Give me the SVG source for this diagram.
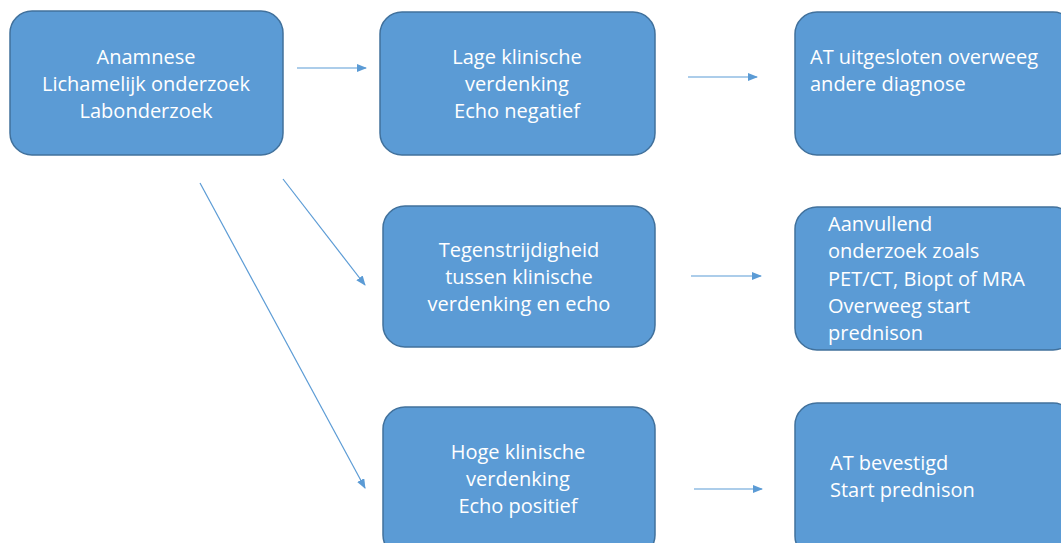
<svg xmlns="http://www.w3.org/2000/svg" width="1061" height="543" viewBox="0 0 1061 543">
<style>
.box{fill:#5B9BD5;stroke:#41719C;stroke-width:1.5}
.t{font-family:"Open Sans","Liberation Sans",sans-serif;font-size:20px;fill:#ffffff}
.c{text-anchor:middle}
.ln{stroke:#5B9BD5;stroke-width:1.2;fill:none;marker-end:url(#ah)}
</style>
<defs>
<marker id="ah" markerWidth="10" markerHeight="8" refX="9" refY="4" orient="auto" markerUnits="userSpaceOnUse">
<path d="M0,0 L10,4 L0,8 Z" fill="#5B9BD5"/>
</marker>
</defs>
<rect width="1061" height="543" fill="#ffffff"/>
<g id="connectors">
<line class="ln" x1="297" y1="68" x2="366" y2="68"/>
<line class="ln" x1="688" y1="77" x2="757" y2="77"/>
<line class="ln" x1="283" y1="179" x2="365" y2="285"/>
<line class="ln" x1="200" y1="183" x2="365" y2="488"/>
<line class="ln" x1="691" y1="276" x2="761" y2="276"/>
<line class="ln" x1="694" y1="489" x2="762" y2="489"/>
</g>
<g id="n1">
<rect class="box" x="10" y="11" width="273" height="144" rx="22"/>
<text class="t c" x="146" y="64">Anamnese</text>
<text class="t c" x="146" y="91">Lichamelijk onderzoek</text>
<text class="t c" x="146" y="118">Labonderzoek</text>
</g>
<g id="n2">
<rect class="box" x="380" y="12" width="275" height="143" rx="22"/>
<text class="t c" x="517" y="64">Lage klinische</text>
<text class="t c" x="517" y="91">verdenking</text>
<text class="t c" x="517" y="118">Echo negatief</text>
</g>
<g id="n3">
<rect class="box" x="795" y="12" width="280" height="143" rx="22"/>
<text class="t" x="810" y="64">AT uitgesloten overweeg</text>
<text class="t" x="810" y="91">andere diagnose</text>
</g>
<g id="n4">
<rect class="box" x="383" y="206" width="272" height="141" rx="22"/>
<text class="t c" x="519" y="257">Tegenstrijdigheid</text>
<text class="t c" x="519" y="284">tussen klinische</text>
<text class="t c" x="519" y="311">verdenking en echo</text>
</g>
<g id="n5">
<rect class="box" x="795" y="207" width="280" height="143" rx="22"/>
<text class="t" x="828" y="231">Aanvullend</text>
<text class="t" x="828" y="258">onderzoek zoals</text>
<text class="t" x="828" y="286">PET/CT, Biopt of MRA</text>
<text class="t" x="828" y="313">Overweeg start</text>
<text class="t" x="828" y="340">prednison</text>
</g>
<g id="n6">
<rect class="box" x="383" y="407" width="272" height="150" rx="22"/>
<text class="t c" x="518" y="459">Hoge klinische</text>
<text class="t c" x="518" y="486">verdenking</text>
<text class="t c" x="518" y="513">Echo positief</text>
</g>
<g id="n7">
<rect class="box" x="795" y="403" width="280" height="155" rx="22"/>
<text class="t" x="830" y="470">AT bevestigd</text>
<text class="t" x="830" y="497">Start prednison</text>
</g>
</svg>
